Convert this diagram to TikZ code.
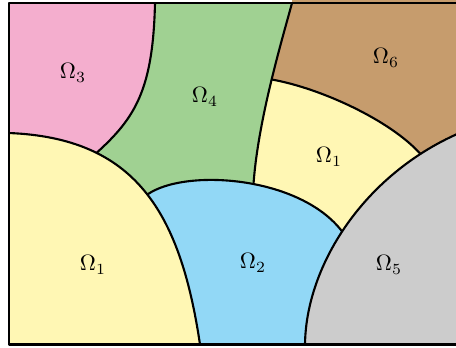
\documentclass[tikz,border=0pt]{standalone}
\usepackage{tikz}
\usetikzlibrary{calc}
\usepackage{amsmath}
\usepackage{xcolor}

\definecolor{regpink}{RGB}{244,174,206}
\definecolor{reggreen}{RGB}{160,209,146}
\definecolor{regbrown}{RGB}{198,156,109}
\definecolor{regyellow}{RGB}{255,247,180}
\definecolor{regblue}{RGB}{146,216,246}
\definecolor{reggray}{RGB}{204,204,204}

\begin{document}
\begin{tikzpicture}[x=0.45pt, y=-0.45pt,
    bdry/.style={line width=0.95pt, line join=round},
    lbl/.style={inner sep=0pt}]
    \useasboundingbox (0,0) rectangle (456,347);
    \clip (0,0) rectangle (456,347);

    % Junction points, taken on the interface curves
    \path (9,133) .. controls (134,138) and (180,210) .. (200,344.5)
      coordinate[pos=0.28] (j1) coordinate[pos=0.52] (j2);
    \path (305,344.5) .. controls (306,260) and (372,162) .. (480,125)
      coordinate[pos=0.44] (j4) coordinate[pos=0.8] (j5);
    \path (j2) .. controls (185,168) and (300,176) .. (j4)
      coordinate[pos=0.545] (j3);
    \path (292,3) .. controls (282,40) and (258,120) .. (j3)
      coordinate[pos=0.48] (j6);

    % Omega_4 as background
    \fill[reggreen] (9,3) rectangle (480,344.5);

    % Omega_3 (top left)
    \fill[regpink] (9,3) -- (155,3) .. controls (153,90) and (135,118) .. (j1)
      -- (9,200) -- cycle;

    % Right of the Omega_4 strip: Omega_1 and Omega_6
    \begin{scope}
      \clip (292,0) -- (292,3) .. controls (282,40) and (258,120) .. (j3)
        -- (253,344.5) -- (480,344.5) -- (480,0) -- cycle;
      \fill[regyellow] (200,0) rectangle (480,344.5);
      \fill[regbrown] (j6) .. controls (320,88) and (390,120) .. (j5)
        -- (480,154) -- (480,0) -- (200,0) -- (200,79) -- cycle;
    \end{scope}

    % Omega_2
    \fill[regblue] (j2) .. controls (185,168) and (300,176) .. (j4)
      -- (343,344.5) -- (147,344.5) -- cycle;

    % Omega_5
    \fill[reggray] (305,344.5) .. controls (306,260) and (372,162) .. (480,125)
      -- (480,344.5) -- cycle;

    % Omega_1 (bottom left)
    \fill[regyellow] (9,133) .. controls (134,138) and (180,210) .. (200,344.5)
      -- (9,344.5) -- cycle;

    % Interfaces
    \draw[bdry] (9,133) .. controls (134,138) and (180,210) .. (200,344.5);
    \draw[bdry] (155,3) .. controls (153,90) and (135,118) .. (j1);
    \draw[bdry] (j2) .. controls (185,168) and (300,176) .. (j4);
    \draw[bdry] (292,3) .. controls (282,40) and (258,120) .. (j3);
    \draw[bdry] (j6) .. controls (320,88) and (390,120) .. (j5);
    \draw[bdry] (305,344.5) .. controls (306,260) and (372,162) .. (480,125);
    \draw[bdry] (9,3) rectangle (480,344.5);

    % Labels
    \node[lbl] (o3) at (73,73) {$\Omega_3$};
    \node[lbl] (o4) at (205,97) {$\Omega_4$};
    \node[lbl] (o6) at (386,58) {$\Omega_6$};
    \node[lbl] (o1r) at (329,157) {$\Omega_1$};
    \node[lbl] (o1l) at (93,265) {$\Omega_1$};
    \node[lbl] (o2) at (253,263) {$\Omega_2$};
    \node[lbl] (o5) at (389,265) {$\Omega_5$};
\end{tikzpicture}
\end{document}
